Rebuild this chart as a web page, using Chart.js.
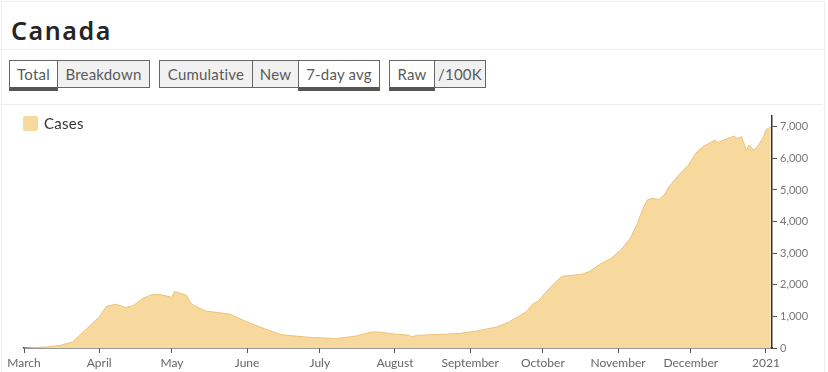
<!DOCTYPE html>
<html>
<head>
<meta charset="utf-8">
<script src="https://cdn.jsdelivr.net/npm/chart.js@4"></script>
<style>
  html, body { margin: 0; padding: 0; background: #fff; }
  body { width: 828px; height: 372px; overflow: hidden; position: relative; font-family: Lato, sans-serif; }
  .card { position: absolute; left: 1px; top: 1px; width: 822px; height: 380px; border: 1px solid #eee; border-bottom: none; }
  .title { position: absolute; left: 11px; top: 13px; font-family: 'Noto Sans', sans-serif; font-size: 25px; font-weight: 600; color: #252525; letter-spacing: 1.6px; }
  .rule { position: absolute; left: 0; width: 823px; height: 1px; background: #eee; }
  .btn { position: absolute; top: 60px; height: 28px; box-sizing: border-box; border: 1px solid #666; background: #f1f1f1; color: #5a5a5a; font-size: 15px; line-height: 26px; text-align: center; letter-spacing: 0.2px; }
  .btn.on { background: #fff; height: 31px; border-bottom: 4px solid #555; }
  .legend { position: absolute; left: 23px; top: 114px; font-size: 15px; color: #333; letter-spacing: 0.3px; }
  .legend i { display: inline-block; width: 15px; height: 15px; background: #f8d99d; border-radius: 2px; vertical-align: -2px; margin-right: 6px; }
  #wrap { position: absolute; left: 0; top: 104px; width: 828px; height: 268px; }
</style>
</head>
<body>
<div class="card"></div>
<div class="rule" style="top:49px"></div>
<div class="rule" style="top:104px"></div>
<div class="title">Canada</div>
<div class="btn on" style="left:9px;width:49px">Total</div>
<div class="btn" style="left:57px;width:93px">Breakdown</div>
<div class="btn" style="left:159px;width:94px">Cumulative</div>
<div class="btn" style="left:252px;width:47px">New</div>
<div class="btn on" style="left:298px;width:82px">7-day avg</div>
<div class="btn on" style="left:389px;width:46px">Raw</div>
<div class="btn" style="left:434px;width:52px">/100K</div>
<div id="wrap"><canvas id="chart"></canvas></div>
<div class="legend"><i></i>Cases</div>
<script>
// days since 1 March 2020, 7-day average of new cases
const days = [0, 9, 15, 20, 26, 31, 34, 38, 42, 45, 49, 53, 57, 61, 62, 65, 67, 69, 70, 75, 85, 92, 99, 106, 113, 119, 129, 137, 143, 147, 151, 159, 160, 162, 170, 179, 187, 195, 200, 204, 207, 210, 212, 216, 220, 222, 226, 230, 233, 238, 242, 246, 250, 253, 255, 257, 259, 262, 264, 266, 270, 274, 277, 280, 283, 285, 286, 290, 293, 294, 296, 298, 299, 301, 303, 305, 306, 308];
const cases = [0, 30, 85, 190, 620, 980, 1320, 1385, 1280, 1340, 1565, 1700, 1680, 1600, 1790, 1720, 1670, 1400, 1350, 1170, 1070, 825, 615, 425, 370, 330, 300, 380, 505, 505, 455, 400, 350, 400, 425, 455, 540, 665, 825, 1000, 1140, 1400, 1480, 1830, 2145, 2270, 2300, 2335, 2410, 2670, 2830, 3095, 3465, 3940, 4360, 4680, 4730, 4700, 4840, 5100, 5470, 5790, 6160, 6370, 6495, 6580, 6495, 6630, 6705, 6630, 6685, 6240, 6420, 6260, 6420, 6685, 6900, 7000];

const monthStarts = [0, 31, 61, 92, 122, 153, 184, 214, 245, 275, 306];
const monthLabels = ['March', 'April', 'May', 'June', 'July', 'August', 'September', 'October', 'November', 'December', '2021'];

const yTicks = [0, 1000, 2000, 3000, 4000, 5000, 6000, 7000];

const points = days.map((d, i) => ({x: d, y: cases[i]}));

const ctx = document.getElementById('chart').getContext('2d');
new Chart(ctx, {
  type: 'line',
  data: {
    datasets: [{
      label: 'Cases',
      data: points,
      fill: 'origin',
      backgroundColor: '#f8d99d',
      borderColor: '#ecc27a',
      borderWidth: 1,
      pointRadius: 0,
      tension: 0
    }]
  },
  options: {
    responsive: true,
    maintainAspectRatio: false,
    animation: false,
    layout: { padding: { left: 24, top: 12, right: 0, bottom: 0 } },
    plugins: { legend: { display: false }, tooltip: { enabled: false } },
    scales: {
      x: {
        type: 'linear',
        min: 0,
        max: 308.5,
        afterBuildTicks: (axis) => { axis.ticks = monthStarts.map(v => ({value: v})); },
        afterFit: (axis) => { axis.height = 24; },
        ticks: {
          autoSkip: false,
          maxRotation: 0,
          padding: 3,
          color: '#666',
          font: { family: 'Lato', size: 12 },
          callback: (v) => monthLabels[monthStarts.indexOf(v)]
        },
        grid: { drawOnChartArea: false, drawTicks: true, tickLength: 5, color: '#555' },
        border: { color: '#333', width: 1.5 }
      },
      y: {
        position: 'right',
        min: 0,
        max: 7340,
        afterBuildTicks: (axis) => { axis.ticks = yTicks.map(v => ({value: v})); },
        afterFit: (axis) => { axis.width = 56; },
        ticks: {
          padding: 3,
          color: '#777',
          font: { family: 'Lato', size: 11 },
          callback: (v) => v.toLocaleString('en-US')
        },
        grid: { drawOnChartArea: false, drawTicks: true, tickLength: 5, color: '#555' },
        border: { color: '#333', width: 1.5 }
      }
    }
  }
});
</script>
</body>
</html>
